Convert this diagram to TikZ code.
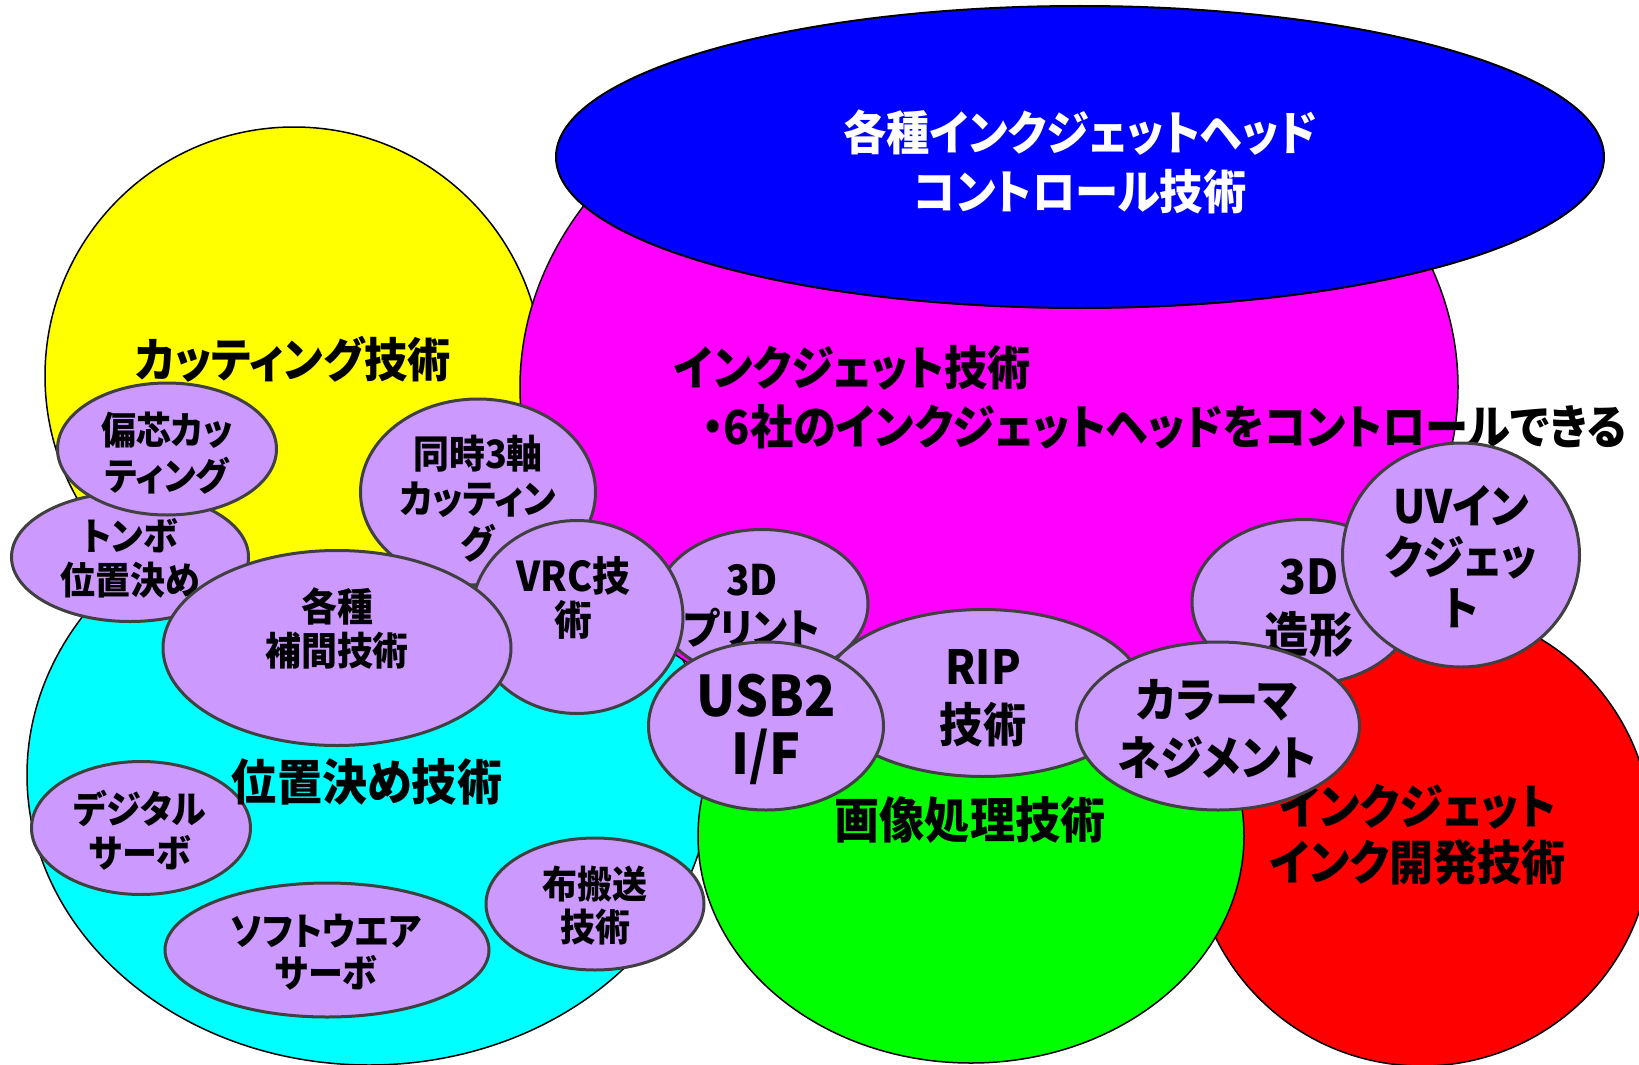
\documentclass[tikz,border=0pt]{standalone}
\usepackage{fontspec}
\setmainfont{Noto Sans CJK JP}[RawFeature={+palt}, FakeStretch=0.92]
\usetikzlibrary{shapes.geometric}
\definecolor{cY}{RGB}{255,255,0}
\definecolor{cM}{RGB}{255,0,255}
\definecolor{cB}{RGB}{0,0,255}
\definecolor{cC}{RGB}{0,255,255}
\definecolor{cG}{RGB}{0,255,0}
\definecolor{cR}{RGB}{255,0,0}
\definecolor{lav}{RGB}{204,153,255}
\definecolor{lavline}{RGB}{64,64,64}
\newcommand\fs[2]{\fontsize{#1}{#2}\selectfont}
\tikzset{
  region/.style={ellipse, draw=black, line width=1.5pt, inner sep=0pt},
  bubble/.style={ellipse, draw=lavline, fill=lav, line width=3pt, inner sep=0pt},
  lbl/.style={align=center, inner sep=0pt, font=\bfseries},
}
\begin{document}
\begin{tikzpicture}[x=1pt,y=-1pt]
\path[use as bounding box] (0,0) rectangle (1639,1065);
\clip (0,0) rectangle (1639,1065);
% big regions
\node[region, fill=cC, minimum width=684pt, minimum height=580pt] (cyanR) at (369,775) {};
\node[region, fill=cY, minimum width=498pt, minimum height=498pt] (yellowR) at (294,376) {};
\node[region, fill=cR, minimum width=460pt, minimum height=460pt] (redR) at (1422,836) {};
\node[region, fill=cG, minimum width=546pt, minimum height=454pt] (greenR) at (971,836) {};
\node[region, fill=cM, minimum width=938pt, minimum height=720pt] (magR) at (989,387) {};
\node[region, fill=cB, line width=2pt, minimum width=1048pt, minimum height=302pt] (blueR) at (1080,157) {};
% region labels
\node[lbl, text=white, font=\bfseries\fs{47}{59}] (blueT) at (1080,162) {各種インクジェットヘッド\\コントロール技術};
\node[lbl, font=\bfseries\fs{47}{56}] (yellowT) at (293,359) {カッティング技術};
\node[lbl, anchor=west, font=\bfseries\fs{47}{56}] (magT1) at (674,368) {インクジェット技術};
\node[lbl, anchor=west, font=\bfseries\fs{47}{56}] (magT2) at (702,427) {・6社のインクジェットヘッドをコントロールできる};
\node[lbl, font=\bfseries\fs{49}{56}] (greenT) at (970,820) {画像処理技術};
\node[lbl, font=\bfseries\fs{48}{56}] (redT) at (1418,835) {インクジェット\\インク開発技術};
% bubbles
\node[bubble, minimum width=237pt, minimum height=129pt] (tonbo) at (130,557) {};
\node[lbl, font=\bfseries\fs{38}{44}] (tonboT) at (130,558) {トンボ\\位置決め};
\node[bubble, minimum width=219pt, minimum height=132pt] (henshin) at (167,449) {};
\node[lbl, font=\bfseries\fs{38}{46}] (henshinT) at (167,453) {偏芯カッ\\ティング};
\node[bubble, minimum width=235pt, minimum height=186pt] (doji) at (478,492) {};
\node[lbl, font=\bfseries\fs{39}{45}] (dojiT) at (478,499) {同時3軸\\カッティン\\グ};
\node[bubble, minimum width=212pt, minimum height=149pt] (print3d) at (762,604) {};
\node[lbl, font=\bfseries\fs{42}{49}] (print3dT) at (752,606) {3D\\プリント};
\node[bubble, minimum width=212pt, minimum height=193pt] (vrc) at (577,617) {};
\node[lbl, font=\bfseries\fs{41}{44}] (vrcT) at (573,598) {VRC技\\術};
\node[bubble, minimum width=348pt, minimum height=195pt] (hokan) at (337,648) {};
\node[lbl, font=\bfseries\fs{39}{44}] (hokanT) at (337,628) {各種\\補間技術};
\node[bubble, minimum width=321pt, minimum height=167pt] (rip) at (983,693) {};
\node[lbl, font=\bfseries\fs{47}{58}] (ripT) at (983,698) {RIP\\技術};
\node[bubble, minimum width=235pt, minimum height=168pt] (usb) at (766,726) {};
\node[lbl, font=\bfseries\fs{56}{58}] (usbT) at (766,729) {USB2\\I/F};
\node[bubble, minimum width=224pt, minimum height=165pt] (zoukei) at (1304,602) {};
\node[lbl, font=\bfseries\fs{48}{58}] (zoukeiT) at (1309,608) {3D\\造形};
\node[bubble, minimum width=237pt, minimum height=224pt] (uv) at (1461,555) {};
\node[lbl, font=\bfseries\fs{46}{51}] (uvT) at (1461,557) {UVイン\\クジェッ\\ト};
\node[bubble, minimum width=283pt, minimum height=168pt] (color) at (1218,726) {};
\node[lbl, font=\bfseries\fs{47}{58}] (colorT) at (1217,729) {カラーマ\\ネジメント};
\node[bubble, minimum width=219pt, minimum height=133pt] (digital) at (141,828) {};
\node[lbl, font=\bfseries\fs{38}{44}] (digitalT) at (140,830) {デジタル\\サーボ};
\node[bubble, minimum width=324pt, minimum height=134pt] (soft) at (327,950) {};
\node[lbl, font=\bfseries\fs{38}{42}] (softT) at (326,952) {ソフトウエア\\サーボ};
\node[bubble, minimum width=218pt, minimum height=132pt] (nuno) at (595,904) {};
\node[lbl, font=\bfseries\fs{38}{43}] (nunoT) at (595,906) {布搬送\\技術};
% cyan label on top
\node[lbl, font=\bfseries\fs{49}{56}] (cyanT) at (367,782) {位置決め技術};
\end{tikzpicture}
\end{document}
